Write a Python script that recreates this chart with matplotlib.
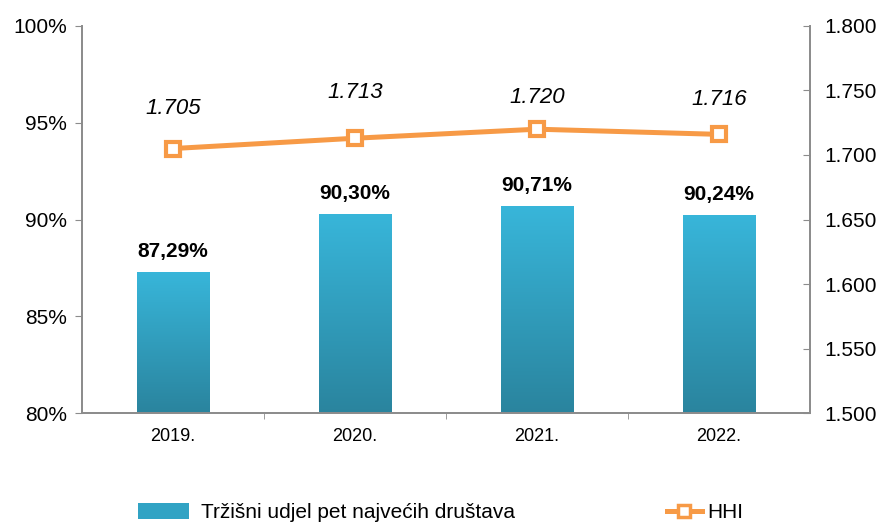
import numpy as np
import matplotlib.pyplot as plt
from matplotlib.colors import LinearSegmentedColormap
from matplotlib.lines import Line2D
from matplotlib.patches import Patch

plt.rcParams["font.family"] = ["Liberation Sans", "DejaVu Sans"]

years = ["2019.", "2020.", "2021.", "2022."]
share = [87.29, 90.30, 90.71, 90.24]
share_labels = ["87,29%", "90,30%", "90,71%", "90,24%"]
hhi = [1705, 1713, 1720, 1716]
hhi_labels = ["1.705", "1.713", "1.720", "1.716"]
hhi_label_offsets = [29, 33, 23, 25]  # points above the marker

BAR_TOP = "#38b6da"
BAR_BOTTOM = "#2a849e"
ORANGE = "#f79a46"
GRAY = "#8c8c8c"

fig = plt.figure(figsize=(8.84, 5.23), dpi=100)
ax = fig.add_axes([0.0928, 0.2103, 0.8235, 0.74])
ax2 = ax.twinx()

x = np.arange(len(years))
bars = ax.bar(x, share, width=0.4, color=BAR_TOP, zorder=2)

# vertical gradient on the bars
cmap = LinearSegmentedColormap.from_list("bar", [BAR_BOTTOM, BAR_TOP])
grad = np.linspace(0, 1, 256).reshape(-1, 1)
for b in bars:
    x0, y0 = b.get_x(), 80
    x1, y1 = x0 + b.get_width(), b.get_height()
    im = ax.imshow(grad, cmap=cmap, origin="lower", aspect="auto",
                   extent=[x0, x1, y0, y1], zorder=2)
    im.set_clip_path(b)
    b.set_facecolor("none")

for xi, v, lab in zip(x, share, share_labels):
    ax.annotate(lab, (xi, v), xytext=(0, 8), textcoords="offset points",
                ha="center", va="bottom", fontsize=15, fontweight="bold")

ax.set_ylim(80, 100)
ax.set_xlim(-0.5, 3.5)
ax.set_yticks([80, 85, 90, 95, 100])
ax.set_yticklabels([f"{t}%" for t in [80, 85, 90, 95, 100]])
ax.set_xticks(x)
ax.set_xticklabels(years)
ax.set_xticks([0.5, 1.5, 2.5], minor=True)
ax.tick_params(axis="x", which="major", length=0, labelsize=13, pad=11)
ax.tick_params(axis="x", which="minor", length=4, color=GRAY)
ax.tick_params(axis="y", length=5, color=GRAY, labelsize=15, pad=6)

ax2.plot(x, hhi, color=ORANGE, lw=3.6, marker="s", markersize=10,
         markerfacecolor="white", markeredgecolor=ORANGE, markeredgewidth=3,
         zorder=3)
for xi, v, lab, off in zip(x, hhi, hhi_labels, hhi_label_offsets):
    ax2.annotate(lab, (xi, v), xytext=(0, off), textcoords="offset points",
                 ha="center", va="center", fontsize=16, fontstyle="italic")
ax2.set_ylim(1500, 1800)
ax2.set_yticks(range(1500, 1801, 50))
ax2.set_yticklabels([f"{t/1000:.3f}" for t in range(1500, 1801, 50)])
ax2.tick_params(axis="y", direction="in", length=5, color=GRAY, labelsize=15, pad=10)

for a in (ax, ax2):
    a.spines["top"].set_visible(False)
    for s in ("left", "right", "bottom"):
        a.spines[s].set_color(GRAY)
        a.spines[s].set_linewidth(1.3)

h1 = Patch(facecolor="#31a3c4", edgecolor="none")
h2 = Line2D([], [], color=ORANGE, lw=3.6, marker="s", markersize=9,
            markerfacecolor="white", markeredgecolor=ORANGE, markeredgewidth=2.5)
fig.legend([h1], ["Tržišni udjel pet najvećih društava"], loc="center left",
           bbox_to_anchor=(0.135, 0.02), frameon=False, fontsize=15,
           handlelength=2.45, handleheight=0.8, handletextpad=0.55)
fig.legend([h2], ["HHI"], loc="center left", bbox_to_anchor=(0.733, 0.02),
           frameon=False, fontsize=15, handlelength=1.7, handletextpad=0.25)

fig.savefig("out.png", dpi=100)
